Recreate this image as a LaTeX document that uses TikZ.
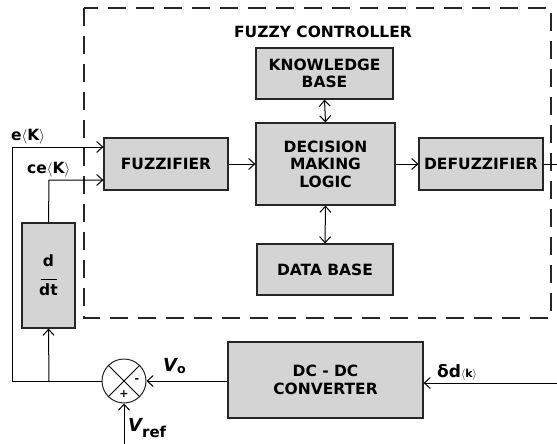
\documentclass[tikz,border=0pt]{standalone}
\usepackage{fontspec}
\setmainfont{DejaVu Sans}
\usetikzlibrary{arrows.meta}
\definecolor{boxgray}{RGB}{212,212,212}
\begin{document}
\begin{tikzpicture}[x=1pt,y=-1pt,
  blk/.style={draw=black!85, line width=1.2pt, fill=boxgray, inner sep=0pt, align=center,
    font=\bfseries\fontsize{15.5}{17.5}\selectfont},
  ar/.style={-{Straight Barb[length=6pt,width=11pt]}, line width=1pt},
  dar/.style={{Straight Barb[length=6pt,width=11pt]}-{Straight Barb[length=6pt,width=11pt]}, line width=1pt},
  wire/.style={line width=1pt},
  lbl/.style={inner sep=0pt, font=\bfseries\fontsize{15.5}{17}\selectfont},
  fuzzybox/.style={draw=black!85, line width=1.4pt, dash pattern=on 18pt off 10pt}]
\useasboundingbox (0,0) rectangle (557,444);
\draw[fuzzybox] (84,8) rectangle (551,318);
\node[lbl] (title) at (323,32) {FUZZY CONTROLLER};

\node[blk, minimum width=137pt, minimum height=51pt] (kb) at (324.5,73.5) {KNOWLEDGE\\BASE};
\node[blk, minimum width=139pt, minimum height=82pt] (dml) at (325.5,164) {DECISION\\MAKING\\LOGIC};
\node[blk, minimum width=136pt, minimum height=51pt] (db) at (325,269.5) {DATA BASE};
\node[blk, minimum width=124pt, minimum height=52pt] (fuz) at (166,164) {FUZZIFIER};
\node[blk, minimum width=124pt, minimum height=52pt] (dfz) at (481,164) {DEFUZZIFIER};
\node[blk, minimum width=53pt, minimum height=105pt] (ddt) at (48.5,275.5) {d\\[-4pt]\rule{16pt}{1.4pt}\\[-2pt]dt};
\node[blk, minimum width=195pt, minimum height=76pt] (conv) at (325.5,380) {DC - DC\\CONVERTER};
\node[draw=black!85, line width=1pt, circle, minimum size=44pt, inner sep=0pt] (sum) at (124,381) {};
\draw[wire] (sum.north west) -- (sum.south east);
\draw[wire] (sum.north east) -- (sum.south west);
\node[lbl, font=\bfseries\fontsize{11}{12}\selectfont] (minus) at (137,381) {-};
\node[lbl, font=\bfseries\fontsize{11}{12}\selectfont] (plus) at (124,394) {+};

\coordinate (ein) at (12,147);
\coordinate (ebot) at (12,381);
\coordinate (cein) at (49,180);
\coordinate (junc) at (49,381);
\coordinate (outr) at (557,164);
\coordinate (dd) at (557,383);
\coordinate (vref) at (124,444);

\draw[dar] (kb.south) -- (dml.north);
\draw[dar] (dml.south) -- (db.north);
\draw[ar] (fuz.east) -- (dml.west);
\draw[ar] (dml.east) -- (dfz.west);
\draw[wire] (dfz.east) -- (outr);
\draw[ar] (sum.west) -- (ebot) -- (ein) -- (ein -| fuz.west);
\draw[ar] (ddt.north) -- (cein) -- (cein -| fuz.west);
\draw[ar] (junc) -- (ddt.south);
\draw[ar] (conv.west |- sum.east) -- (sum.east);
\draw[ar] (dd) -- (dd -| conv.east);
\draw[ar] (vref) -- (sum.south);

\node[lbl, anchor=west] (el) at (11,137) {e$\langle$K$\rangle$};
\node[lbl, anchor=west] (cel) at (27,170) {ce$\langle$K$\rangle$};
\node[lbl, anchor=west, font=\bfseries\itshape\fontsize{18}{20}\selectfont] (vo) at (163,366) {V\textsubscript{\upshape o}};
\node[lbl, anchor=west, font=\bfseries\itshape\fontsize{18}{20}\selectfont] (vr) at (128,428) {V\textsubscript{\upshape\fontsize{15}{16}\selectfont ref}};
\node[lbl, anchor=west, font=\bfseries\fontsize{17}{19}\selectfont] (ddl) at (437,372) {δd{\fontsize{11}{12}\selectfont$\langle$k$\rangle$}};
\end{tikzpicture}
\end{document}
